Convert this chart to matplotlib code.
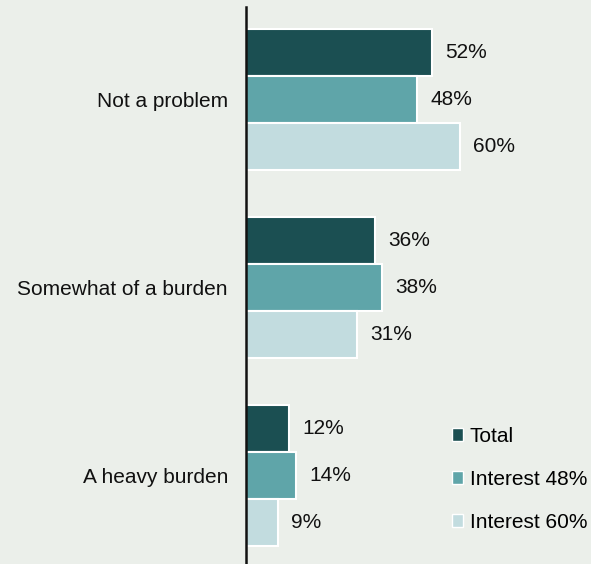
import numpy as np
import matplotlib.pyplot as plt
from matplotlib.patches import Patch

plt.rcParams["font.family"] = ["Liberation Sans", "DejaVu Sans"]

categories = ["Not a problem", "Somewhat of a burden", "A heavy burden"]
series_names = ["Total", "Interest 48%", "Interest 60%"]
total = [52, 36, 12]
interest_48 = [48, 38, 14]
interest_60 = [60, 31, 9]

colors = ["#1b4f52", "#5fa5a9", "#c2dcdf"]
bg = "#ebefea"

fig = plt.figure(figsize=(5.91, 5.64), dpi=100, facecolor=bg)
ax = fig.add_axes([246 / 591, 0, 1 - 246 / 591, 1 - 7 / 564], facecolor=bg)

y = np.arange(len(categories))
h = 0.25
for i, (vals, name) in enumerate(zip([total, interest_48, interest_60], series_names)):
    pos = y + (i - 1) * h
    ax.barh(pos, vals, height=h, color=colors[i], edgecolor="white",
            linewidth=1.5, label=name)
    for p, v in zip(pos, vals):
        ax.annotate(f"{v}%", (v, p), xytext=(9.5, 0), textcoords="offset points",
                    va="center", ha="left", fontsize=15, color="#111111")

ax.set_xlim(0, 96.6)
ax.set_ylim(2.471, -0.492)
ax.set_yticks(y)
ax.set_yticklabels(categories, fontsize=15, color="#111111")
ax.tick_params(axis="y", length=0, pad=13)
ax.set_xticks([])
for side in ["top", "right", "bottom"]:
    ax.spines[side].set_visible(False)
ax.spines["left"].set_linewidth(1.8)
ax.spines["left"].set_color("#111111")

handles = [Patch(facecolor=c, edgecolor="white", linewidth=1.0) for c in colors]
fig.legend(handles, series_names, loc="upper left",
           bbox_to_anchor=(452 / 591, 1 - 427 / 564), frameon=False,
           fontsize=15, handlelength=0.55, handleheight=0.55,
           handletextpad=0.3, labelspacing=1.15, borderpad=0, borderaxespad=0)

fig.savefig("out.png", dpi=100, facecolor=bg)
